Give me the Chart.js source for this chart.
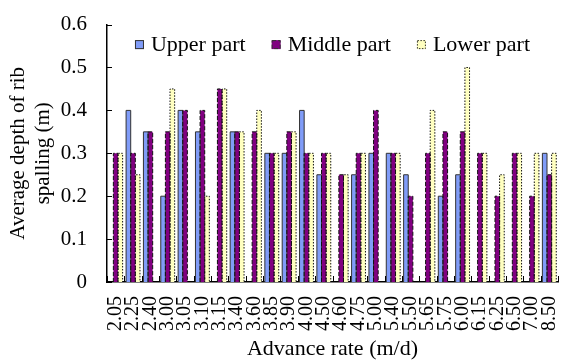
<!DOCTYPE html>
<html>
<head>
<meta charset="utf-8">
<script src="https://cdn.jsdelivr.net/npm/chart.js@4/dist/chart.umd.min.js"></script>
<style>
  html, body { margin: 0; padding: 0; background: #fff; }
  #wrap { width: 561px; height: 364px; }
</style>
</head>
<body>
<div id="wrap"><canvas id="myChart" width="561" height="364"></canvas></div>
<script>
const rates = ["2.05", "2.25", "2.40", "3.00", "3.05", "3.10", "3.15", "3.40", "3.60", "3.85", "3.90", "4.00", "4.50",
  "4.60", "4.75", "5.00", "5.40", "5.50", "5.65", "5.75", "6.00", "6.15", "6.25", "6.50", "7.00", "8.50"];
const upperPart = [0, 0.4, 0.35, 0.2, 0.4, 0.35, 0, 0.35, 0, 0.3, 0.3, 0.4, 0.25,
  0, 0.25, 0.3, 0.3, 0.25, 0, 0.2, 0.25, 0, 0, 0, 0, 0.3];
const middlePart = [0.3, 0.3, 0.35, 0.35, 0.4, 0.4, 0.45, 0.35, 0.35, 0.3, 0.35, 0.3, 0.3,
  0.25, 0.3, 0.4, 0.3, 0.2, 0.3, 0.35, 0.35, 0.3, 0.2, 0.3, 0.2, 0.25];
const lowerPart = [0.3, 0.25, 0, 0.45, 0, 0.2, 0.45, 0.35, 0.4, 0.3, 0.35, 0.3, 0.3,
  0.25, 0.3, 0, 0.3, 0, 0.4, 0, 0.5, 0.3, 0.25, 0.3, 0.3, 0.3];
const yTicks = [0, 0.1, 0.2, 0.3, 0.4, 0.5, 0.6];

const serif = "'Liberation Serif', 'Times New Roman', serif";

// dashed / dotted outlines: upper solid, middle dashed, lower dotted
const dashes = [[], [4, 2], [1.5, 1.5]];

const extrasPlugin = {
  id: "extras",
  afterDatasetsDraw(chart) {
    const c = chart.ctx;
    const area = chart.chartArea;
    chart.data.datasets.forEach((ds, i) => {
      const meta = chart.getDatasetMeta(i);
      meta.data.forEach((bar, j) => {
        if (!ds.data[j]) return;
        const left = bar.x - bar.width / 2;
        c.save();
        c.strokeStyle = i == 0 ? "#333" : "#111";
        c.lineWidth = 1;
        c.setLineDash(dashes[i]);
        c.beginPath();
        c.moveTo(left, bar.base);
        c.lineTo(left, bar.y);
        c.lineTo(left + bar.width, bar.y);
        c.lineTo(left + bar.width, bar.base);
        c.stroke();
        c.restore();
      });
    });

    c.save();
    c.strokeStyle = "#000";
    c.lineWidth = 1;
    // small ticks between the groups, pointing up
    const xs = chart.scales.x;
    for (let k = 0; k <= rates.length; k++) {
      const px = Math.round(xs.getPixelForValue(k - 0.5)) + 0.5;
      c.beginPath();
      c.moveTo(px, area.bottom);
      c.lineTo(px, area.bottom - 6);
      c.stroke();
    }
    // y ticks pointing into the plot
    const ys = chart.scales.y;
    yTicks.forEach((v) => {
      const py = Math.round(ys.getPixelForValue(v)) + 0.5;
      c.beginPath();
      c.moveTo(area.left, py);
      c.lineTo(area.left + 5, py);
      c.stroke();
    });
    c.restore();

    // legend inside the plot, along the top
    c.save();
    c.font = "22px " + serif;
    c.textBaseline = "middle";
    c.fillStyle = "#000";
    const box = 9, gapBox = 7, gapItem = 26;
    const widths = chart.data.datasets.map((ds) => c.measureText(ds.label).width);
    let total = widths.reduce((a, b) => a + b, 0) + chart.data.datasets.length * (box + gapBox) + gapItem * 2;
    let x = (area.left + area.right) / 2 - total / 2;
    const y = area.top + 20;
    chart.data.datasets.forEach((ds, i) => {
      c.fillStyle = ds.backgroundColor;
      c.fillRect(x, y - box / 2, box, box);
      c.strokeStyle = "#333";
      c.lineWidth = 1;
      c.setLineDash(dashes[i]);
      c.strokeRect(x + 0.5, y - box / 2 + 0.5, box - 1, box - 1);
      c.setLineDash([]);
      c.fillStyle = "#000";
      c.fillText(ds.label, x + box + gapBox, y + 1);
      x += box + gapBox + widths[i] + gapItem;
    });
    c.restore();
  }
};

var ctx = document.getElementById("myChart").getContext("2d");
var myChart = new Chart(ctx, {
  type: "bar",
  data: {
    labels: rates,
    datasets: [
      { label: "Upper part", data: upperPart, backgroundColor: "#809cf8", borderWidth: 0 },
      { label: "Middle part", data: middlePart, backgroundColor: "#800080", borderWidth: 0 },
      { label: "Lower part", data: lowerPart, backgroundColor: "#ffffc0", borderWidth: 0 },
    ],
  },
  plugins: [extrasPlugin],
  options: {
    responsive: false,
    animation: false,
    layout: { padding: { top: 18, right: 3, left: 0, bottom: 0 } },
    datasets: { bar: { categoryPercentage: 0.8, barPercentage: 1.0 } },
    scales: {
      x: {
        afterFit: (s) => { s.height = 82; s.paddingLeft = 0; s.paddingRight = 0; },
        grid: { display: false },
        border: { color: "#000", width: 1.5 },
        ticks: {
          color: "#000", font: { family: serif, size: 20 },
          minRotation: 90, maxRotation: 90, autoSkip: false, padding: 6,
        },
        title: {
          display: true, text: "Advance rate (m/d)", color: "#000",
          font: { family: serif, size: 22 }, padding: { top: 0, bottom: 2 },
        },
      },
      y: {
        min: 0, max: 0.6,
        afterFit: (s) => { s.width = 107; },
        afterBuildTicks: (axis) => { axis.ticks = yTicks.map((v) => ({ value: v })); },
        grid: { display: false },
        border: { color: "#000", width: 1.5 },
        ticks: { color: "#000", font: { family: serif, size: 21 }, padding: 12 },
        title: {
          display: true, text: ["Average depth of rib", "spalling (m)"], color: "#000",
          font: { family: serif, size: 21, lineHeight: 1.2 }, padding: { top: 6, bottom: 0 },
        },
      },
    },
    plugins: {
      legend: { display: false },
      tooltip: { enabled: false },
    },
  },
});
</script>
</body>
</html>
